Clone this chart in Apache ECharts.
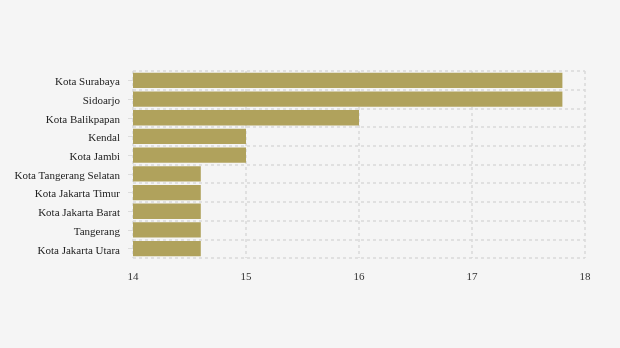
<!DOCTYPE html>
<html>
<head>
<meta charset="utf-8">
<script src="https://cdn.jsdelivr.net/npm/echarts@6/dist/echarts.min.js"></script>
<style>
html,body{margin:0;padding:0;background:#f5f5f5;}
#c{width:620px;height:348px;}
</style>
</head>
<body>
<div id="c"></div>
<script>
var categories = ["Kota Surabaya","Sidoarjo","Kota Balikpapan","Kendal","Kota Jambi","Kota Tangerang Selatan","Kota Jakarta Timur","Kota Jakarta Barat","Tangerang","Kota Jakarta Utara"];
var values = [17.8,17.8,16.0,15.0,15.0,14.6,14.6,14.6,14.6,14.6];
var xTicks = [14,15,16,17,18];

var chart = echarts.init(document.getElementById('c'));
chart.setOption({
  backgroundColor: '#f5f5f5',
  animation: false,
  textStyle: {fontFamily: 'Liberation Serif'},
  grid: {left: 133, right: 35, top: 71, bottom: 90},
  xAxis: {
    type: 'value',
    min: xTicks[0], max: xTicks[xTicks.length-1], interval: 1,
    axisLine: {show: false},
    axisTick: {show: false},
    axisLabel: {color: '#333', fontSize: 11, margin: 14, fontFamily: 'Liberation Serif'},
    splitLine: {show: true, lineStyle: {color: '#d9d9d9', type: [3,3], width: 1.5}}
  },
  yAxis: {
    type: 'category',
    data: categories,
    inverse: true,
    axisLine: {show: false},
    axisTick: {show: true, alignWithLabel: true, length: 5, lineStyle: {color: '#dcdcdc'}},
    axisLabel: {
      color: '#222', fontSize: 11, margin: 13, fontFamily: 'Liberation Serif',
      formatter: function (v) { return '{a|' + v + '}'; },
      rich: {a: {color: '#222', fontSize: 11, fontFamily: 'Liberation Serif', padding: [4,0,0,0]}}
    },
    splitLine: {show: true, lineStyle: {color: '#d9d9d9', type: [3,3], width: 1.5}}
  },
  series: [{
    type: 'bar',
    data: values,
    barCategoryGap: '18%',
    itemStyle: {color: '#b0a25c'}
  }]
});
</script>
</body>
</html>
